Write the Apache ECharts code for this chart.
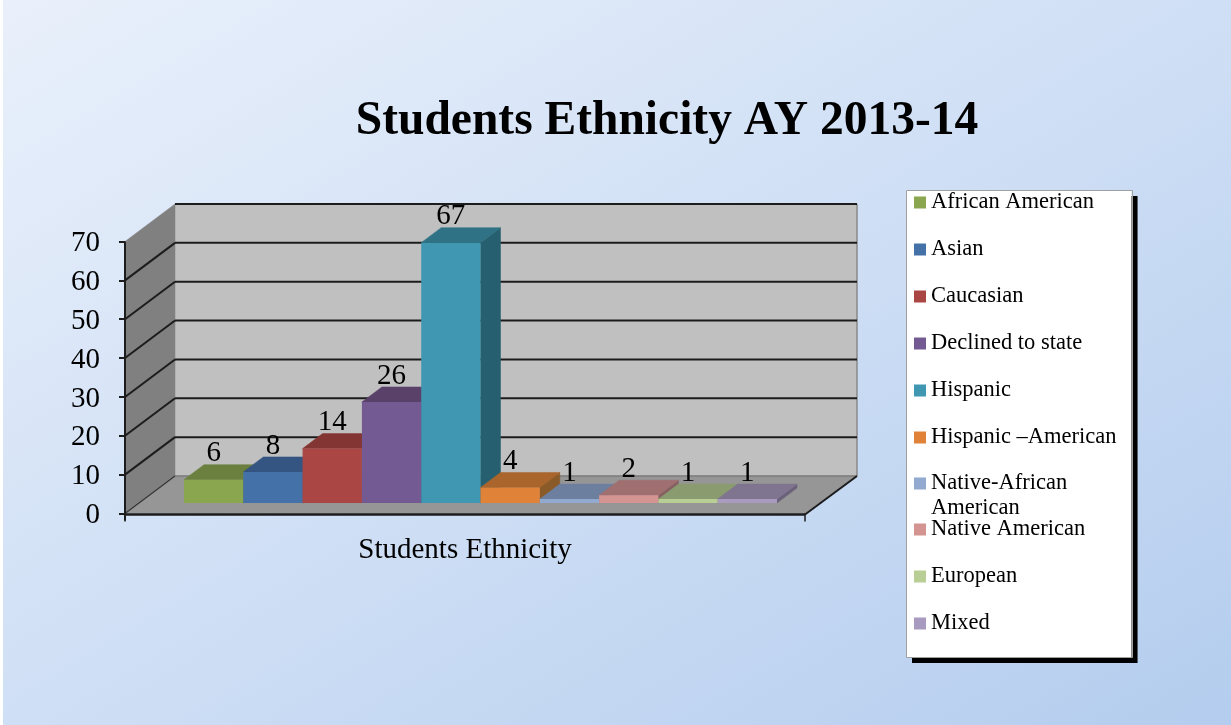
<!DOCTYPE html>
<html>
<head>
<meta charset="utf-8">
<style>
html,body{margin:0;padding:0;width:1231px;height:725px;overflow:hidden;background:#fff}
#bg{position:absolute;left:3px;top:0;width:1228px;height:725px;background:linear-gradient(to bottom right,#e9f0fb,#cfdff5 50%,#b4cdee)}
#chart{position:absolute;left:0;top:0;width:1231px;height:725px}
</style>
<script src="https://cdn.jsdelivr.net/npm/echarts@6/dist/echarts.min.js"></script>
</head>
<body>
<div id="bg"></div>
<div id="chart"></div>
<script>
const title = 'Students Ethnicity AY 2013-14';
const axisCategories = ['Students Ethnicity'];
const yTicks = [0, 10, 20, 30, 40, 50, 60, 70];
const groups = ['African American', 'Asian', 'Caucasian', 'Declined to state', 'Hispanic',
  'Hispanic –American', 'Native-African\nAmerican', 'Native American', 'European', 'Mixed'];
const values = [6, 8, 14, 26, 67, 4, 1, 2, 1, 1];
const faceColors = ['#8aa64e', '#4472a8', '#aa4644', '#735a92', '#4097b1',
  '#e08238', '#92a9d0', '#d49492', '#b8ce94', '#a99bc0'];
const topColors = ['#6b7f3e', '#345481', '#833533', '#5a4169', '#2f7285',
  '#a9652c', '#6d7f9e', '#a06f70', '#8a9b70', '#7f7590'];
const sideColors = ['#556632', '#2a4468', '#6a2b29', '#48345a', '#265f6f',
  '#8a5a28', '#5c6b85', '#866060', '#75845f', '#6b627a'];

const FONT = '"Liberation Serif","Times New Roman",serif';
const DEPTH_X = 50, DEPTH_Y = -37.5, WALL_RIGHT_X = 52;   // wall depth in px
const BAR_DX = 15.5, BAR_DY = -10.5, BAR_DEPTH_X = 20, BAR_DEPTH_Y = -15; // bar depth in px
const BAR_SHARE = 59.3 / 680;
const INK = '#1c1c1c';

function poly(points, fill) {
  return { type: 'polygon', shape: { points }, style: { fill, stroke: fill, lineWidth: 0.5 } };
}
function line(a, b, stroke, w) {
  return { type: 'line', shape: { x1: a[0], y1: a[1], x2: b[0], y2: b[1] }, style: { stroke, lineWidth: w } };
}

// walls, floor and gridlines
function renderWalls(params, api) {
  const cat = axisCategories[0];
  const band = api.size([1, 0])[0];
  const c = api.coord([cat, 0]);
  const xL = c[0] - band / 2, xR = c[0] + band / 2;
  const y0 = c[1];
  const yTop = api.coord([cat, yTicks[yTicks.length - 1]])[1];
  const bL = xL + DEPTH_X, bR = xR + WALL_RIGHT_X;
  const children = [
    poly([[bL, yTop + DEPTH_Y], [bR, yTop + DEPTH_Y], [bR, y0 + DEPTH_Y], [bL, y0 + DEPTH_Y]], '#c0c0c0'),
    poly([[xL, yTop], [bL, yTop + DEPTH_Y], [bL, y0 + DEPTH_Y], [xL, y0]], '#808080'),
    poly([[xL, y0], [bL, y0 + DEPTH_Y], [bR, y0 + DEPTH_Y], [xR, y0]], '#969696'),
    line([bR, yTop + DEPTH_Y], [bR, y0 + DEPTH_Y], '#8a8a8a', 1.5),
    line([bL, y0 + DEPTH_Y], [bR, y0 + DEPTH_Y], '#7d7d7d', 1.5),
    line([xL, y0], [bL, y0 + DEPTH_Y], '#333333', 1.2),
    line([xR, y0 + 1], [bR, y0 + DEPTH_Y], INK, 2),
    line([xL, y0 + 1], [xR, y0 + 1], INK, 2.5)
  ];
  yTicks.forEach(function (t) {
    if (t === 0) return;
    const y = api.coord([cat, t])[1];
    if (t < yTicks[yTicks.length - 1]) children.push(line([xL, y], [bL, y + DEPTH_Y], INK, 2));
    children.push(line([bL, y + DEPTH_Y], [bR, y + DEPTH_Y], INK, 2));
  });
  children.push(line([xL, yTop], [xL, y0 + 7], INK, 2));
  return { type: 'group', children };
}

// one 3D bar per group
function renderBar(i) {
  return function (params, api) {
    const cat = axisCategories[0];
    const v = api.value(1);
    const band = api.size([1, 0])[0];
    const base = api.coord([cat, 0]);
    const top = api.coord([cat, v]);
    const w = band * BAR_SHARE;
    const x0 = base[0] + BAR_DX - w * groups.length / 2 + w * i;
    const x1 = x0 + w;
    const yB = base[1] + BAR_DY, yT = top[1] + BAR_DY;
    return {
      type: 'group',
      children: [
        poly([[x1, yB], [x1 + BAR_DEPTH_X, yB + BAR_DEPTH_Y], [x1 + BAR_DEPTH_X, yT + BAR_DEPTH_Y], [x1, yT]], sideColors[i]),
        poly([[x0, yT], [x0 + BAR_DEPTH_X, yT + BAR_DEPTH_Y], [x1 + BAR_DEPTH_X, yT + BAR_DEPTH_Y], [x1, yT]], topColors[i]),
        { type: 'rect', shape: { x: x0, y: yT, width: w, height: yB - yT }, style: { fill: faceColors[i] } },
        { type: 'text', z2: 100, x: x0 + w / 2, y: yT - 26,
          style: { text: String(v), fill: '#000', font: '29px ' + FONT, align: 'center', verticalAlign: 'middle' } }
      ]
    };
  };
}

const legendBase = {
  orient: 'vertical', itemWidth: 12, itemHeight: 12, icon: 'rect',
  selectedMode: false,
  textStyle: { fontFamily: FONT, fontSize: 22.5, color: '#000', lineHeight: 22 }
};

const series = [{
  name: 'walls', type: 'custom', renderItem: renderWalls, data: [[axisCategories[0], 0]], silent: true, z: 1,
  clip: false, encode: { x: 0, y: 1 }
}].concat(groups.map(function (name, i) {
  return {
    name, type: 'custom', renderItem: renderBar(i), data: [[axisCategories[0], values[i]]], z: 2,
    clip: false, encode: { x: 0, y: 1 }, itemStyle: { color: faceColors[i] }
  };
}));

const chart = echarts.init(document.getElementById('chart'), null, { renderer: 'canvas' });
chart.setOption({
  animation: false,
  backgroundColor: 'transparent',
  title: {
    text: title, left: 667, top: 122, padding: 0, textAlign: 'center', textVerticalAlign: 'middle',
    textStyle: { fontFamily: FONT, fontSize: 47.5, fontWeight: 'bold', color: '#000' }
  },
  grid: { left: 125, top: 241.5, width: 680, height: 272, containLabel: false },
  xAxis: {
    type: 'category', data: axisCategories,
    axisLine: { show: false },
    axisTick: { show: true, alignWithLabel: false, length: 8, lineStyle: { color: INK, width: 1.5 } },
    axisLabel: { fontFamily: FONT, fontSize: 29, color: '#000', margin: 22 },
    z: 3
  },
  yAxis: {
    type: 'value', min: 0, max: 70, interval: 10,
    axisLine: { show: false },
    axisTick: { show: true, length: 6, lineStyle: { color: INK, width: 2 } },
    axisLabel: {
      margin: 25, formatter: '{a|{value}}',
      rich: { a: { fontFamily: FONT, fontSize: 29, color: '#000', padding: [4, 0, 0, 0] } }
    },
    splitLine: { show: false },
    z: 3
  },
  legend: [
    Object.assign({}, legendBase, {
      id: 'main', left: 906, top: 190, data: groups.slice(0, 6), itemGap: 24,
      padding: [1, 15, 208, 8], backgroundColor: '#ffffff', borderWidth: 0,
      shadowColor: '#000000', shadowBlur: 0, shadowOffsetX: 6, shadowOffsetY: 6
    }),
    Object.assign({}, legendBase, {
      id: 'wrapped', left: 914, top: 446, padding: 0, data: groups.slice(6, 7),
      formatter: function (name) { return '\n' + name; },
      textStyle: Object.assign({}, legendBase.textStyle, { lineHeight: 25 })
    }),
    Object.assign({}, legendBase, { id: 'rest', left: 914, top: 518, padding: 0, data: groups.slice(7), itemGap: 24 })
  ],
  graphic: [{
    type: 'rect', left: 906, top: 190, silent: true, z: 10,
    shape: { width: 226, height: 467 }, style: { fill: 'transparent', stroke: '#a0a0a0', lineWidth: 1 }
  }],
  series
});
</script>
</body>
</html>
